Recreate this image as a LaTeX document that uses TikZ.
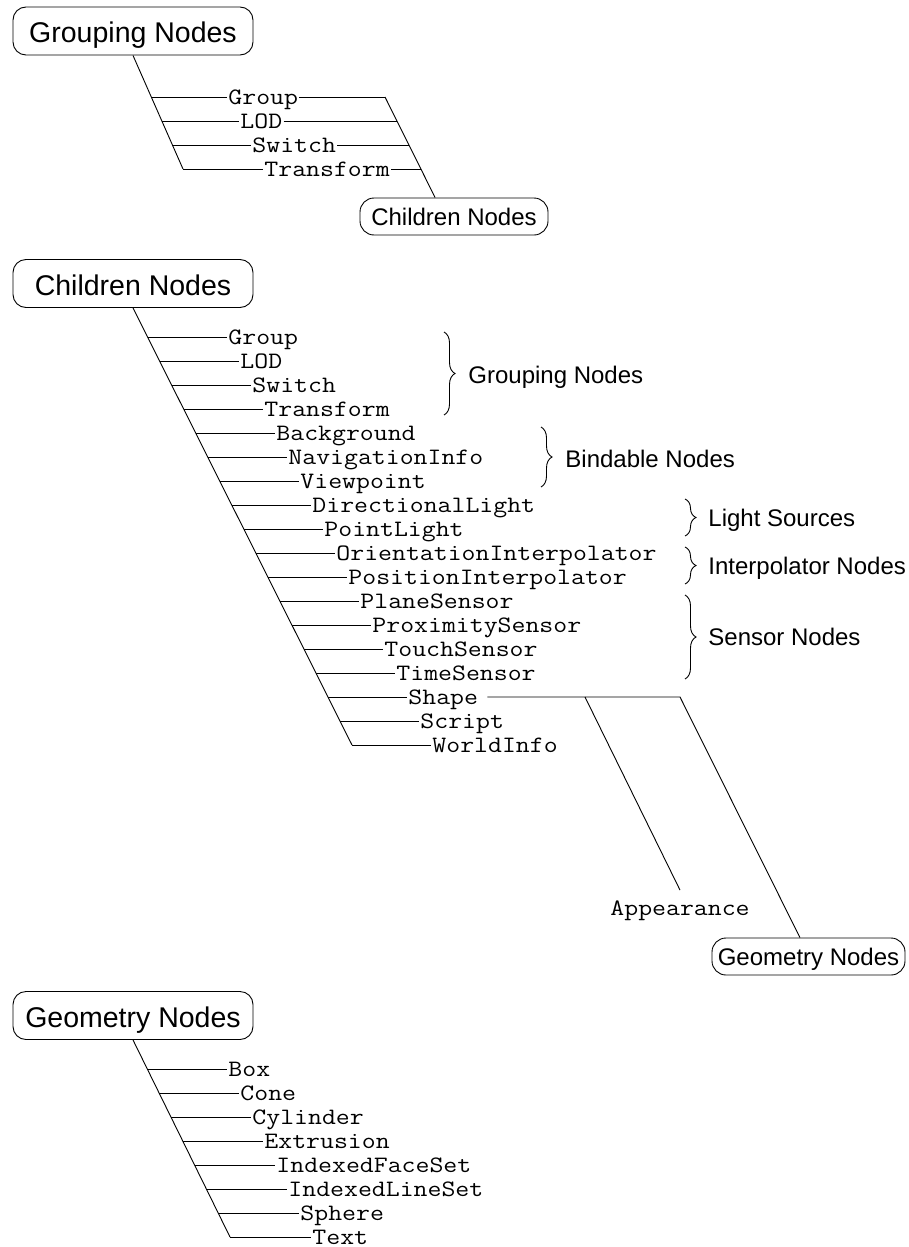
\documentclass[tikz,border=0pt]{standalone}
\usepackage{fontspec}
\setmainfont{Liberation Sans}
\setmonofont{Latin Modern Mono}[FakeStretch=1.15]
\usetikzlibrary{calc,decorations.pathreplacing}

\begin{document}
\begin{tikzpicture}[x=1pt,y=1pt,yscale=-1,line width=0.9pt,
    bigbox/.style={draw,rounded corners=13pt,minimum width=240pt,minimum height=48pt,inner sep=0pt,text height=24pt,text depth=0pt,font=\fontsize{28.5}{32}\selectfont},
    smallbox/.style={draw,rounded corners=14pt,minimum height=37pt,inner sep=0pt,text height=17pt,text depth=0pt,font=\fontsize{24}{28}\selectfont},
    item/.style={anchor=west,inner sep=1pt,text height=14pt,text depth=0pt,font=\ttfamily\fontsize{23.5}{26}\selectfont},
    setname/.style={anchor=west,inner sep=0pt,text height=17pt,text depth=0pt,font=\fontsize{24}{28}\selectfont},
    curly/.style={decorate,decoration={brace,amplitude=11pt}}]
    \useasboundingbox (0,0) rectangle (908,1247);

    %Shape: Grouping Nodes
    \node[bigbox] (grp) at (133,31) {Grouping Nodes};
    \node[smallbox,minimum width=188pt] (chs) at (454,216.5) {Children Nodes};
    \coordinate (trbot) at (183,169);
    \coordinate (trtop) at (385,97);
    \coordinate (chsin) at ($(chs.north west)!0.4!(chs.north east)$);
    \foreach \t [count=\i from 0] in {Group,LOD,Switch,Transform} {
        \coordinate (ts\i) at ({133+(42+24*\i)/114*50},{97+24*\i});
        \coordinate (tr\i) at ({385+24*\i/101*50},{97+24*\i});
        \node[item] (t\i) at ({227+12*\i},{97+24*\i}) {\t};
        \draw (ts\i) -- (t\i.west);
        \draw (t\i.east) -- (tr\i);
    }
    \draw (grp.south) -- (trbot);
    \draw (trtop) -- (chsin);

    %Shape: Children Nodes
    \node[bigbox] (chl) at (133,283.5) {Children Nodes};
    \foreach \t [count=\i from 0] in {Group,LOD,Switch,Transform,Background,NavigationInfo,Viewpoint,DirectionalLight,PointLight,OrientationInterpolator,PositionInterpolator,PlaneSensor,ProximitySensor,TouchSensor,TimeSensor,Shape,Script,WorldInfo} {
        \coordinate (cs\i) at ({148+12*\i},{337+24*\i});
        \node[item] (c\i) at ({227+12*\i},{337+24*\i}) {\t};
        \draw (cs\i) -- (c\i.west);
    }
    \draw (chl.south) -- (cs17);

    % Braces
    \draw[curly] (444,332) -- (444,415);
    \node[setname] (bgrp) at (468,375) {Grouping Nodes};
    \draw[curly] (541,427) -- (541,487);
    \node[setname] (bbind) at (565,459) {Bindable Nodes};
    \draw[curly] (685,499) -- (685,536);
    \node[setname] (blight) at (708,518) {Light Sources};
    \draw[curly] (685,547) -- (685,584);
    \node[setname] (binter) at (708,566) {Interpolator Nodes};
    \draw[curly] (685,595) -- (685,679);
    \node[setname] (bsens) at (708,637) {Sensor Nodes};

    %Straight Lines: Shape
    \node[item,anchor=center,inner ysep=11pt] (app) at (680,908.5) {Appearance};
    \node[smallbox,minimum width=193pt] (geos) at (808.5,956.5) {Geometry Nodes};
    \coordinate (shapp) at (585,697);
    \coordinate (shgeo) at (680,697);
    \coordinate (geosin) at ($(geos.north west)!0.456!(geos.north east)$);
    \draw ([xshift=8pt]c15.east) -- (shgeo) -- (geosin);
    \draw (shapp) -- (app.north);

    %Shape: Geometry Nodes
    \node[bigbox] (geo) at (133,1015.5) {Geometry Nodes};
    \foreach \t [count=\i from 0] in {Box,Cone,Cylinder,Extrusion,IndexedFaceSet,IndexedLineSet,Sphere,Text} {
        \coordinate (ms\i) at ({133+(30+24*\i)/198*97},{1069+24*\i});
        \node[item] (m\i) at ({227+12*\i},{1069+24*\i}) {\t};
        \draw (ms\i) -- (m\i.west);
    }
    \draw (geo.south) -- (ms7);

\end{tikzpicture}
\end{document}
